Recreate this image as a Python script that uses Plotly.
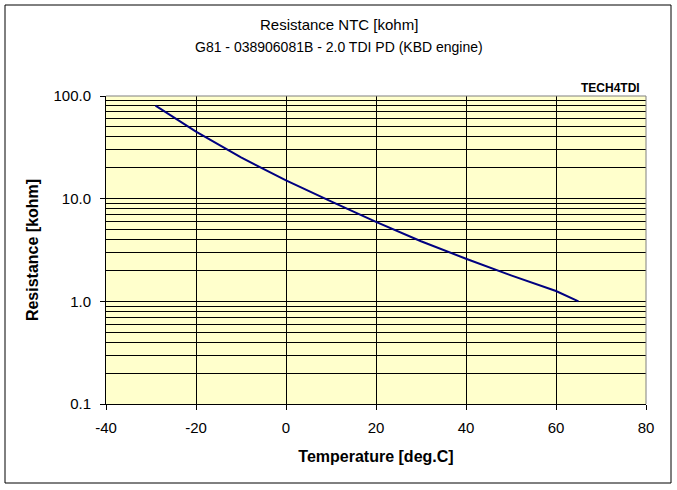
import plotly.graph_objects as go

temperature = [-29, -20, -10, 0, 10, 20, 30, 40, 50, 60, 65]
resistance = [80.5, 45.0, 25.2, 15.1, 9.4, 5.95, 3.85, 2.6, 1.79, 1.26, 1.0]

y_major = [0.1, 1, 10, 100]
y_major_text = ["0.1", "1.0", "10.0", "100.0"]
y_minor = [m * 10 ** e for e in (-1, 0, 1) for m in range(2, 10)]
x_ticks = [-40, -20, 0, 20, 40, 60, 80]

title_lines = ["Resistance NTC [kohm]", "G81 - 038906081B - 2.0 TDI PD (KBD engine)"]

FONT = "Liberation Sans, Arial, sans-serif"

fig = go.Figure()
fig.add_trace(go.Scatter(
    x=temperature, y=resistance, mode="lines",
    line=dict(color="#000080", width=2), showlegend=False,
))

L, R, T, B = 106, 31, 96, 86
W, H = 677, 490
pw = W - L - R
ph = H - T - B

def px(x):
    return (x - L) / pw

def py(y):
    return (H - B - y) / ph

fig.update_layout(
    width=W, height=H,
    margin=dict(l=L, r=R, t=T, b=B),
    paper_bgcolor="white",
    plot_bgcolor="#FFFFCC",
    font=dict(family=FONT, size=15, color="black"),
    xaxis=dict(
        range=[-40, 80], tickvals=x_ticks, ticktext=[str(v) for v in x_ticks],
        showgrid=True, gridcolor="black", gridwidth=1,
        showline=True, linecolor="black", linewidth=1,
        ticks="outside", ticklen=5, tickcolor="black",
        zeroline=False, ticklabelstandoff=5,
        title=dict(text="<b>Temperature [deg.C]</b>", font=dict(size=16), standoff=15),
        tickfont=dict(size=15),
    ),
    yaxis=dict(
        type="log", range=[-1, 2],
        tickvals=y_major, ticktext=y_major_text,
        showgrid=True, gridcolor="black", gridwidth=1,
        minor=dict(tickvals=y_minor, showgrid=True, gridcolor="black", gridwidth=1, ticks=""),
        showline=True, linecolor="black", linewidth=1,
        ticks="outside", ticklen=5, tickcolor="black",
        zeroline=False, ticklabelstandoff=6,
        title=dict(text="<b>Resistance [kohm]</b>", font=dict(size=16), standoff=10),
        tickfont=dict(size=15),
    ),
    shapes=[
        dict(type="line", xref="paper", yref="paper", x0=0, x1=1, y0=1, y1=1,
             line=dict(color="#808080", width=1)),
        dict(type="line", xref="paper", yref="paper", x0=1, x1=1, y0=0, y1=1,
             line=dict(color="#808080", width=1)),
        dict(type="rect", xref="paper", yref="paper",
             x0=px(5), x1=px(671), y0=py(483), y1=py(5),
             line=dict(color="black", width=1), fillcolor="rgba(0,0,0,0)"),
    ],
    annotations=[
        dict(text=title_lines[0], xref="paper", yref="paper",
             x=px(338.5), y=py(25), xanchor="center", yanchor="middle",
             showarrow=False, font=dict(family=FONT, size=15, color="black")),
        dict(text=title_lines[1], xref="paper", yref="paper",
             x=px(338.5), y=py(47), xanchor="center", yanchor="middle",
             showarrow=False, font=dict(family=FONT, size=14, color="black")),
        dict(text="<b>TECH4TDI</b>", xref="paper", yref="paper",
             x=px(642), y=py(88), xanchor="right", yanchor="middle",
             showarrow=False, font=dict(family=FONT, size=12, color="black")),
    ],
)

fig.write_html("out.html")
